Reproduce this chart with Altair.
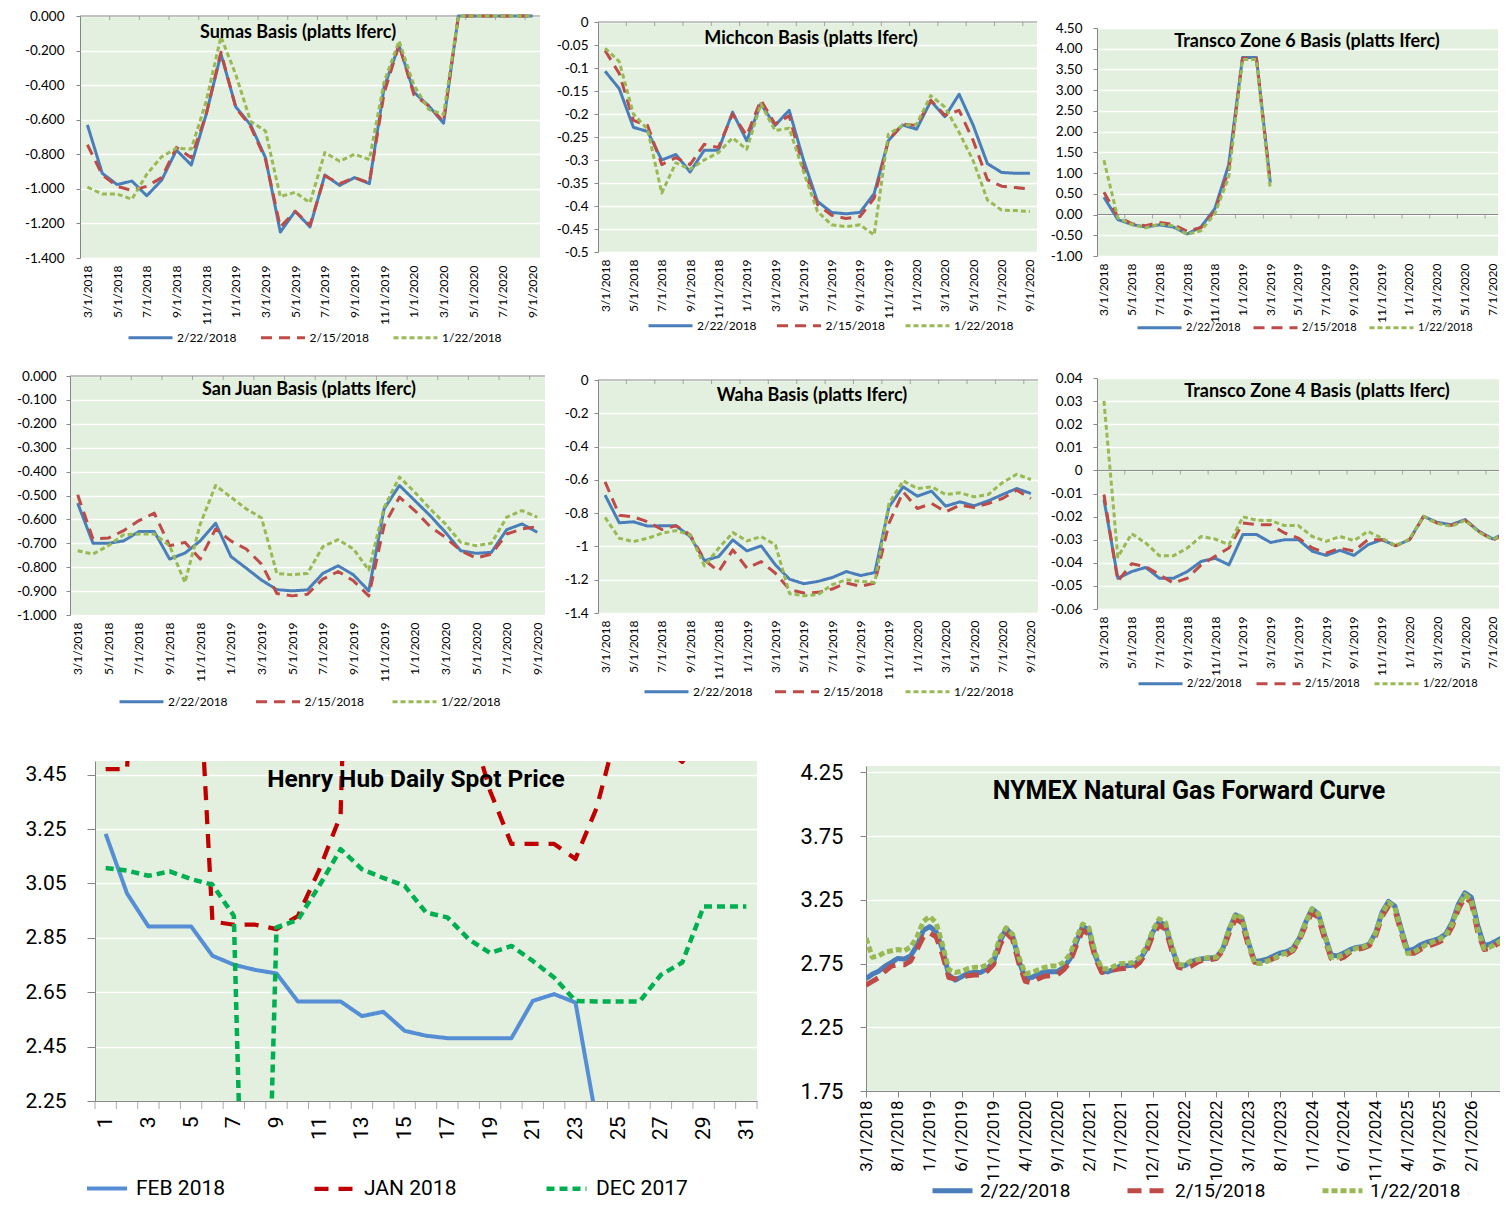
import json
import altair as alt
import pandas as pd

LATO = "Lato"
SANS = "Roboto"
BG = "#E3F0DF"
AXIS = "#868686"
ONE = pd.DataFrame({"k": [0]})


def month_labels(year, month, n):
    out = []
    for _ in range(n):
        out.append(f"{month}/1/{year}")
        month += 1
        if month > 12:
            month, year = 1, year + 1
    return out


# ---------------- category labels ----------------
BASIS_LABELS = month_labels(2018, 3, 31)          # 3/1/2018 .. 9/1/2020
NYMEX_LABELS = month_labels(2018, 3, 101)         # 3/1/2018 .. 7/1/2026
DAYS = list(range(1, 32))

SERIES = ["2/22/2018", "2/15/2018", "1/22/2018"]
S_COLORS = ["#4A7EBB", "#BE4B48", "#98B954"]
S_DASH = [[1, 0], [11, 7], [5, 3]]
S_WIDTH = [3.0, 3.0, 2.0]

# ---------------- basis data ----------------
SUMAS_A = [-0.63, -0.91, -0.975, -0.955, -1.04, -0.95, -0.776, -0.862, -0.57, -0.22, -0.526, -0.63, -0.82, -1.25, -1.13, -1.22, -0.92, -0.98, -0.935, -0.97, -0.41, -0.17, -0.44, -0.52, -0.62, 0, 0, 0, 0, 0, 0]
SUMAS_B = [-0.745, -0.92, -0.985, -1.01, -0.985, -0.935, -0.76, -0.82, -0.57, -0.21, -0.53, -0.64, -0.83, -1.22, -1.13, -1.21, -0.925, -0.97, -0.935, -0.965, -0.445, -0.165, -0.455, -0.52, -0.61, 0, 0, 0, 0, 0, 0]
SUMAS_C = [-0.99, -1.03, -1.03, -1.06, -0.915, -0.815, -0.765, -0.77, -0.495, -0.12, -0.34, -0.61, -0.665, -1.045, -1.02, -1.08, -0.79, -0.84, -0.80, -0.83, -0.38, -0.145, -0.40, -0.54, -0.57, 0, 0, 0, 0, 0, 0]

MICH_A = [-0.107, -0.145, -0.229, -0.238, -0.30, -0.288, -0.326, -0.279, -0.279, -0.196, -0.258, -0.178, -0.225, -0.192, -0.299, -0.39, -0.414, -0.417, -0.414, -0.373, -0.258, -0.224, -0.233, -0.172, -0.206, -0.157, -0.225, -0.308, -0.327, -0.329, -0.329]
MICH_B = [-0.062, -0.112, -0.214, -0.225, -0.31, -0.295, -0.31, -0.266, -0.273, -0.20, -0.247, -0.17, -0.222, -0.204, -0.317, -0.397, -0.42, -0.427, -0.423, -0.383, -0.258, -0.222, -0.225, -0.17, -0.203, -0.192, -0.258, -0.343, -0.357, -0.36, -0.363]
MICH_C = [-0.057, -0.086, -0.20, -0.233, -0.372, -0.306, -0.32, -0.30, -0.284, -0.252, -0.277, -0.178, -0.236, -0.231, -0.324, -0.412, -0.441, -0.445, -0.441, -0.463, -0.244, -0.225, -0.222, -0.16, -0.185, -0.24, -0.302, -0.387, -0.409, -0.41, -0.412]

Z6_A = [0.42, -0.12, -0.24, -0.30, -0.25, -0.30, -0.47, -0.30, 0.14, 1.20, 3.79, 3.79, 0.78]
Z6_B = [0.54, -0.05, -0.22, -0.27, -0.19, -0.24, -0.40, -0.32, 0.08, 1.06, 3.77, 3.77, 0.76]
Z6_C = [1.31, -0.08, -0.24, -0.32, -0.23, -0.27, -0.48, -0.39, 0.02, 0.90, 3.74, 3.74, 0.62]

SJ_A = [-0.532, -0.70, -0.70, -0.69, -0.651, -0.651, -0.766, -0.741, -0.69, -0.616, -0.755, -0.804, -0.854, -0.894, -0.899, -0.895, -0.826, -0.794, -0.832, -0.899, -0.556, -0.458, -0.521, -0.584, -0.654, -0.731, -0.742, -0.738, -0.643, -0.619, -0.654]
SJ_B = [-0.497, -0.682, -0.678, -0.647, -0.605, -0.574, -0.71, -0.696, -0.766, -0.64, -0.69, -0.724, -0.787, -0.91, -0.92, -0.913, -0.85, -0.818, -0.857, -0.92, -0.626, -0.507, -0.563, -0.63, -0.675, -0.731, -0.762, -0.745, -0.661, -0.64, -0.63]
SJ_C = [-0.731, -0.745, -0.71, -0.664, -0.661, -0.661, -0.71, -0.864, -0.62, -0.458, -0.507, -0.556, -0.594, -0.826, -0.832, -0.826, -0.714, -0.685, -0.724, -0.812, -0.55, -0.423, -0.486, -0.556, -0.619, -0.696, -0.71, -0.70, -0.591, -0.563, -0.591]

WAHA_A = [-0.692, -0.858, -0.852, -0.878, -0.876, -0.876, -0.941, -1.085, -1.061, -0.961, -1.027, -0.997, -1.111, -1.197, -1.224, -1.21, -1.187, -1.151, -1.175, -1.157, -0.762, -0.642, -0.698, -0.668, -0.758, -0.732, -0.756, -0.726, -0.688, -0.652, -0.682]
WAHA_B = [-0.612, -0.812, -0.822, -0.852, -0.898, -0.876, -0.931, -1.081, -1.151, -1.021, -1.131, -1.091, -1.161, -1.26, -1.28, -1.276, -1.256, -1.22, -1.24, -1.22, -0.862, -0.672, -0.772, -0.742, -0.792, -0.752, -0.766, -0.742, -0.712, -0.662, -0.712]
WAHA_C = [-0.826, -0.951, -0.971, -0.951, -0.921, -0.905, -0.931, -1.117, -1.011, -0.917, -0.967, -0.941, -0.991, -1.284, -1.296, -1.29, -1.23, -1.2, -1.21, -1.216, -0.742, -0.606, -0.652, -0.642, -0.688, -0.678, -0.702, -0.688, -0.616, -0.566, -0.598]

Z4_A = [-0.0126, -0.0467, -0.0438, -0.042, -0.0467, -0.0467, -0.0438, -0.0394, -0.038, -0.0409, -0.0278, -0.0278, -0.0312, -0.030, -0.030, -0.035, -0.0368, -0.0346, -0.0368, -0.0322, -0.030, -0.0326, -0.030, -0.0199, -0.0225, -0.0235, -0.0213, -0.0264, -0.0297, -0.0268, -0.029]
Z4_B = [-0.0104, -0.048, -0.0404, -0.0416, -0.0452, -0.0488, -0.0467, -0.0409, -0.0372, -0.0336, -0.0228, -0.0235, -0.0235, -0.0271, -0.0293, -0.0336, -0.0358, -0.0336, -0.035, -0.030, -0.030, -0.0326, -0.030, -0.0201, -0.0228, -0.0238, -0.0216, -0.0264, -0.0303, -0.0271, -0.029]
Z4_C = [0.0301, -0.0375, -0.0274, -0.0314, -0.037, -0.037, -0.0336, -0.0286, -0.0297, -0.0322, -0.0201, -0.0216, -0.0217, -0.0239, -0.0239, -0.0286, -0.0307, -0.0286, -0.0304, -0.0264, -0.0293, -0.0326, -0.0297, -0.0199, -0.023, -0.0242, -0.0216, -0.0268, -0.030, -0.0267, -0.029]

# ---------------- Henry Hub daily ----------------
HH_SERIES = ["FEB 2018", "JAN 2018", "DEC 2017"]
HH_COLORS = ["#558ED5", "#C00000", "#00B050"]
HH_DASH = [[1, 0], [14, 10], [8, 5]]
HH_WIDTH = [4.0, 4.5, 4.0]
HH_FEB = [3.232, 3.013, 2.892, 2.892, 2.892, 2.784, 2.751, 2.732, 2.719, 2.616, 2.616, 2.616, 2.562, 2.578, 2.508, 2.49, 2.481, 2.481, 2.481, 2.481, 2.618, 2.643, 2.612, 2.17]
HH_JAN = [3.47, 3.47, 5.0, 5.6, 4.4, 2.91, 2.898, 2.898, 2.882, 2.93, 3.10, 3.30, 6.0, 4.6, 4.1, 3.9, 3.8, 3.66, 3.39, 3.195, 3.195, 3.195, 3.14, 3.33, 3.63, 3.6, 3.56, 3.497, 3.6, 3.65, 3.7]
HH_DEC = [3.107, 3.097, 3.078, 3.094, 3.066, 3.045, 2.931, 0, 2.888, 2.916, 3.041, 3.176, 3.102, 3.07, 3.041, 2.943, 2.925, 2.845, 2.794, 2.82, 2.765, 2.704, 2.618, 2.616, 2.616, 2.616, 2.714, 2.759, 2.965, 2.965, 2.965]

# ---------------- NYMEX forward curve (from 3/2018) ----------------
NY_A = [2.63, 2.667, 2.69, 2.73, 2.76, 2.79, 2.785, 2.81, 2.89, 3.01,
        3.04, 3.0, 2.864, 2.66, 2.62, 2.646, 2.675, 2.68, 2.68, 2.71, 2.76, 2.92,
        3.027, 2.97, 2.772, 2.633, 2.64, 2.667, 2.685, 2.685, 2.685, 2.72, 2.785, 2.917,
        3.043, 3.01, 2.81, 2.69, 2.685, 2.71, 2.733, 2.733, 2.738, 2.78, 2.864, 2.995,
        3.08, 3.05, 2.877, 2.728, 2.733, 2.764, 2.78, 2.79, 2.793, 2.8, 2.864, 3.02,
        3.132, 3.1, 2.917, 2.767, 2.772, 2.785, 2.81, 2.833, 2.843, 2.87, 2.948, 3.074,
        3.18, 3.14, 2.97, 2.817, 2.81, 2.833, 2.86, 2.877, 2.883, 2.903, 2.995, 3.153,
        3.237, 3.2, 3.02, 2.85, 2.864, 2.896, 2.917, 2.93, 2.948, 2.982, 3.074, 3.218,
        3.305, 3.27, 3.05, 2.89, 2.903, 2.93, 2.956]
NY_B = [2.58, 2.61, 2.64, 2.69, 2.73, 2.74, 2.74, 2.77, 2.86, 2.96,
        2.99, 2.96, 2.82, 2.64, 2.63, 2.64, 2.655, 2.66, 2.66, 2.69, 2.74, 2.89,
        2.99, 2.94, 2.75, 2.61, 2.60, 2.63, 2.65, 2.655, 2.66, 2.70, 2.76, 2.89,
        3.01, 2.98, 2.79, 2.68, 2.69, 2.70, 2.71, 2.715, 2.72, 2.76, 2.84, 2.97,
        3.05, 3.02, 2.85, 2.72, 2.71, 2.73, 2.76, 2.78, 2.78, 2.79, 2.85, 2.99,
        3.10, 3.07, 2.89, 2.76, 2.76, 2.77, 2.79, 2.81, 2.82, 2.85, 2.93, 3.05,
        3.15, 3.11, 2.94, 2.79, 2.78, 2.80, 2.84, 2.86, 2.87, 2.89, 2.97, 3.12,
        3.20, 3.17, 2.99, 2.83, 2.83, 2.86, 2.88, 2.90, 2.92, 2.95, 3.04, 3.18,
        3.27, 3.23, 3.00, 2.86, 2.87, 2.90, 2.93]
NY_C = [2.95, 2.80, 2.81, 2.84, 2.85, 2.86, 2.85, 2.88, 2.96, 3.08,
        3.12, 3.07, 2.90, 2.70, 2.68, 2.69, 2.71, 2.72, 2.72, 2.74, 2.79, 2.95,
        3.03, 2.98, 2.80, 2.67, 2.68, 2.70, 2.72, 2.73, 2.73, 2.76, 2.82, 2.95,
        3.06, 3.03, 2.83, 2.71, 2.71, 2.73, 2.75, 2.75, 2.76, 2.80, 2.88, 3.01,
        3.10, 3.07, 2.89, 2.74, 2.74, 2.77, 2.78, 2.79, 2.80, 2.80, 2.87, 3.02,
        3.14, 3.11, 2.92, 2.75, 2.75, 2.77, 2.79, 2.82, 2.83, 2.86, 2.94, 3.07,
        3.18, 3.14, 2.97, 2.80, 2.80, 2.82, 2.85, 2.87, 2.88, 2.90, 2.99, 3.14,
        3.23, 3.19, 3.01, 2.83, 2.84, 2.87, 2.90, 2.92, 2.94, 2.97, 3.06, 3.20,
        3.29, 3.25, 3.02, 2.87, 2.88, 2.91, 2.94]
NY_DASH = [[1, 0], [14, 8], [6, 3]]
NY_WIDTH = [5.0, 5.0, 3.0]

# ---------------- axis tick values ----------------
T_SUMAS = [0, -0.2, -0.4, -0.6, -0.8, -1.0, -1.2, -1.4]
T_MICH = [0, -0.05, -0.1, -0.15, -0.2, -0.25, -0.3, -0.35, -0.4, -0.45, -0.5]
T_Z6 = [4.5, 4.0, 3.5, 3.0, 2.5, 2.0, 1.5, 1.0, 0.5, 0, -0.5, -1.0]
T_SJ = [0, -0.1, -0.2, -0.3, -0.4, -0.5, -0.6, -0.7, -0.8, -0.9, -1.0]
T_WAHA = [0, -0.2, -0.4, -0.6, -0.8, -1.0, -1.2, -1.4]
T_Z4 = [0.04, 0.03, 0.02, 0.01, 0, -0.01, -0.02, -0.03, -0.04, -0.05, -0.06]
T_HH = [2.25, 2.45, 2.65, 2.85, 3.05, 3.25, 3.45]
T_NY = [1.75, 2.25, 2.75, 3.25, 3.75, 4.25]

RES = dict(x="independent", y="independent", color="independent",
           strokeDash="independent", strokeWidth="independent")
LRES = dict(color="independent", strokeDash="independent", strokeWidth="independent")


def long_df(xs, series, arrays):
    rows = []
    for s, arr in zip(series, arrays):
        for x, v in zip(xs, arr):
            rows.append({"x": x, "value": v, "series": s})
    return pd.DataFrame(rows)


def label_fmt(fmt):
    return f"replace(format(datum.value, '{fmt}'), '\u2212', '-')"


def spacer():
    return alt.Chart(ONE).mark_rect(opacity=0, fill="transparent").encode(
        x=alt.value(0), x2=alt.value(1), y=alt.value(0), y2=alt.value(1)).properties(width=1, height=1)


def panel(p):
    pw, ph = p["size"]
    L, T = p["offset"]            # plot origin inside its cell (cell top already includes a 1px spacer)
    W, H = p["cell"]
    x0, x1 = p["xdom"]
    y0, y1 = p["ydom"]

    xaxis = dict(orient="bottom", values=p["xvalues"], labelAngle=270, title=None, grid=False,
                 ticks=p.get("xticks", False), tickSize=6, tickColor=AXIS,
                 domain=p.get("xdomain_line", False), domainColor=AXIS,
                 labelFlush=False, labelOverlap=False, labelBound=False,
                 labelFont=p["font"], labelFontSize=p["xlab_size"], labelColor="black",
                 labelPadding=p["xlab_pad"])
    if p.get("xlabels") is not None:
        xaxis["labelExpr"] = f"{json.dumps(p['xlabels'])}[datum.value]"
    else:
        xaxis["format"] = "d"
    yaxis = dict(orient="left", values=p["yvalues"], labelExpr=label_fmt(p["yfmt"]), title=None,
                 grid=True, gridColor="white", gridWidth=1.5, gridOpacity=1,
                 domainColor=AXIS, tickColor=AXIS, tickSize=p["ytick"],
                 labelFlush=False, labelOverlap=False, labelBound=False,
                 labelFont=p["font"], labelFontSize=p["ylab_size"], labelColor="black",
                 labelPadding=p["ylab_pad"])

    # every layer shares the same scale + axis definitions so the axes merge cleanly
    def X(field):
        return alt.X(field, scale=alt.Scale(domain=[x0, x1], nice=False, zero=False), axis=alt.Axis(**xaxis))

    def Y(field):
        return alt.Y(field, scale=alt.Scale(domain=[y0, y1], nice=False, zero=False), axis=alt.Axis(**yaxis))

    def YD(v):
        return alt.YDatum(v, type="quantitative", scale=alt.Scale(domain=[y0, y1], nice=False, zero=False),
                          axis=alt.Axis(**yaxis))

    layers = [
        # invisible box covering the panel's whole cell: fixes its footprint in the layout
        alt.Chart(ONE).mark_rect(opacity=0, fill="transparent").encode(
            x=alt.value(-L), x2=alt.value(W - L), y=alt.value(-T), y2=alt.value(H - 1 - T)),
    ]
    if p.get("zero"):
        layers.append(alt.Chart(ONE).mark_rule(color=AXIS, strokeWidth=1).encode(y=YD(0)))
    if p.get("bticks") is not None:
        layers.append(alt.Chart(pd.DataFrame({"b": p["bticks"]})).mark_tick(
            orient="vertical", color=AXIS, size=p["btick_len"], thickness=1,
            yOffset=p["btick_len"] / 2).encode(x=X("b:Q"), y=YD(p["btick_y"])))

    sym = p["sym"]
    lx, ly = p["legend_xy"]
    leg = alt.Legend(orient="none", legendX=lx, legendY=ly - sym / 2, direction="horizontal",
                     title=None, symbolType="stroke", symbolSize=sym * sym, padding=0,
                     labelFont=p["font"], labelFontSize=p["leg_size"], labelColor="black",
                     labelOffset=p["leg_off"], columnPadding=p["leg_pad"])
    dom = p["series"]
    lines = alt.Chart(p["df"]).mark_line(clip=p.get("clip", False), strokeJoin="round").encode(
        x=X("x:Q"),
        y=Y("value:Q"),
        color=alt.Color("series:N", scale=alt.Scale(domain=dom, range=p["colors"]), legend=leg),
        strokeDash=alt.StrokeDash("series:N", scale=alt.Scale(domain=dom, range=p["dashes"]), legend=leg),
        strokeWidth=alt.StrokeWidth("series:N", scale=alt.Scale(domain=dom, range=p["widths"]), legend=leg),
    )
    layers.append(lines)
    tx, ty = p["title_xy"]
    layers.append(alt.Chart(pd.DataFrame({"t": [p["title"]]})).mark_text(
        font=p["font"], fontSize=p["title_size"], fontWeight="bold", align="center",
        baseline="middle", color="black").encode(text="t:N", x=alt.value(tx), y=alt.value(ty)))
    body = alt.layer(*layers).properties(width=pw, height=ph,
                                        view=alt.ViewBackground(fill=BG, strokeWidth=0))
    # a 1px spacer on top lets the plot sit T px below the top of its cell
    return alt.vconcat(spacer(), body, spacing=0).resolve_scale(**RES).resolve_legend(**LRES)


N = len(BASIS_LABELS)
IDX = list(range(N))


def basis(title, arrays, ticks, fmt, cell, plot, title_xy, legend_xy, leg_pad, ylab_pad,
          xmax=N - 0.5, clip=False, leg_size=12):
    L, T, pw, ph = plot
    return panel(dict(
        df=long_df(IDX, SERIES, arrays), series=SERIES, colors=S_COLORS, dashes=S_DASH, widths=S_WIDTH,
        size=(pw, ph), offset=(L, T), cell=cell,
        xdom=(-0.5, xmax), ydom=(min(ticks), max(ticks)),
        xvalues=[i for i in IDX if i % 2 == 0 and i <= xmax], xlabels=BASIS_LABELS,
        yvalues=ticks, yfmt=fmt, zero=True,
        bticks=[i + 0.5 for i in IDX if i % 2 == 1 and i + 0.5 <= xmax], btick_y=0, btick_len=4,
        font=LATO, xlab_size=12, ylab_size=13.5, xlab_pad=7, ylab_pad=ylab_pad, ytick=4,
        title=title, title_xy=title_xy, title_size=18,
        legend_xy=legend_xy, sym=44, leg_size=leg_size, leg_off=3, leg_pad=leg_pad, clip=clip))


# cell = (width, height) of the panel's slot; plot = (left, top, width, height) inside it
p_sumas = basis("Sumas Basis (platts Iferc)", [SUMAS_A, SUMAS_B, SUMAS_C], T_SUMAS, ".3f",
                (536, 352), (71, 4, 460, 242), (218, 17), (47, 320), 17.5, 12)
p_mich = basis("Michcon Basis (platts Iferc)", [MICH_A, MICH_B, MICH_C], T_MICH, "~g",
               (495, 352), (53, 13, 439, 230), (213, 17), (49, 302), 13.5, 6)
p_z6 = basis("Transco Zone 6  Basis (platts Iferc)", [Z6_A, Z6_B, Z6_C], T_Z6, ".2f",
             (458, 352), (57, 19, 401, 228), (210, 14), (39, 298), 6, 11, xmax=28.43,
             leg_size=11)
p_sj = basis("San Juan Basis (platts Iferc)", [SJ_A, SJ_B, SJ_C], T_SJ, ".3f",
             (536, 397), (61, 12, 475, 239), (239, 14), (48, 324), 21.5, 10)
p_waha = basis("Waha Basis (platts Iferc)", [WAHA_A, WAHA_B, WAHA_C], T_WAHA, "~g",
               (495, 397), (52, 16, 440, 233), (214, 16), (45, 310), 15.5, 6)
p_z4 = basis("Transco Zone 4 Basis (platts Iferc)", [Z4_A, Z4_B, Z4_C], T_Z4, "~g",
             (458, 397), (56, 14, 402, 231), (220, 14), (40, 304), 8, 11, xmax=28.44, clip=True,
             leg_size=11)

p_hh = panel(dict(
    df=long_df(DAYS, HH_SERIES, [HH_FEB, HH_JAN, HH_DEC]), series=HH_SERIES, colors=HH_COLORS,
    dashes=HH_DASH, widths=HH_WIDTH, size=(662, 340), offset=(86, 0), cell=(761, 445),
    xdom=(0.5, 31.5), ydom=(2.25, 3.5), xvalues=[d for d in DAYS if d % 2 == 1], xlabels=None,
    yvalues=T_HH, yfmt=".2f", zero=False,
    bticks=[0.5] + [d + 0.5 for d in DAYS], btick_y=2.25, btick_len=8, xdomain_line=True,
    font=SANS, xlab_size=21, ylab_size=21, xlab_pad=15, ylab_pad=21, ytick=8,
    title="Henry Hub Daily Spot Price", title_xy=(321, 19), title_size=24.5,
    legend_xy=(-10, 425), sym=40, leg_size=21, leg_off=7, leg_pad=80, clip=True))

NY_IDX = list(range(len(NY_A)))
p_ny = panel(dict(
    df=long_df(NY_IDX, SERIES, [NY_A, NY_B, NY_C]), series=SERIES, colors=S_COLORS,
    dashes=NY_DASH, widths=NY_WIDTH, size=(634, 325), offset=(96, 4), cell=(730, 445),
    xdom=(0, 99.5), ydom=(1.75, 4.3), xvalues=[i for i in NY_IDX if i % 5 == 0 and i <= 95],
    xlabels=NYMEX_LABELS, yvalues=T_NY, yfmt=".2f", zero=False, bticks=None,
    xticks=True, xdomain_line=True,
    font=SANS, xlab_size=17, ylab_size=22, xlab_pad=3, ylab_pad=17, ytick=6,
    title="NYMEX Natural Gas Forward Curve", title_xy=(323, 25), title_size=25,
    legend_xy=(64, 422), sym=40, leg_size=19, leg_off=5, leg_pad=46, clip=True))


def row(*charts):
    # leading 1px spacer: the first panel then keeps its own left offset inside the row
    return alt.hconcat(spacer(), *charts, spacing=0).resolve_scale(**RES).resolve_legend(**LRES)


chart = alt.vconcat(
    row(p_sumas, p_mich, p_z6),
    row(p_sj, p_waha, p_z4),
    row(p_hh, p_ny),
    spacing=0,
).resolve_scale(**RES).resolve_legend(**LRES).properties(
    padding=0, background="white").configure_view(strokeWidth=0)

chart.save("out.html", embed_options={"renderer": "svg", "actions": False})
